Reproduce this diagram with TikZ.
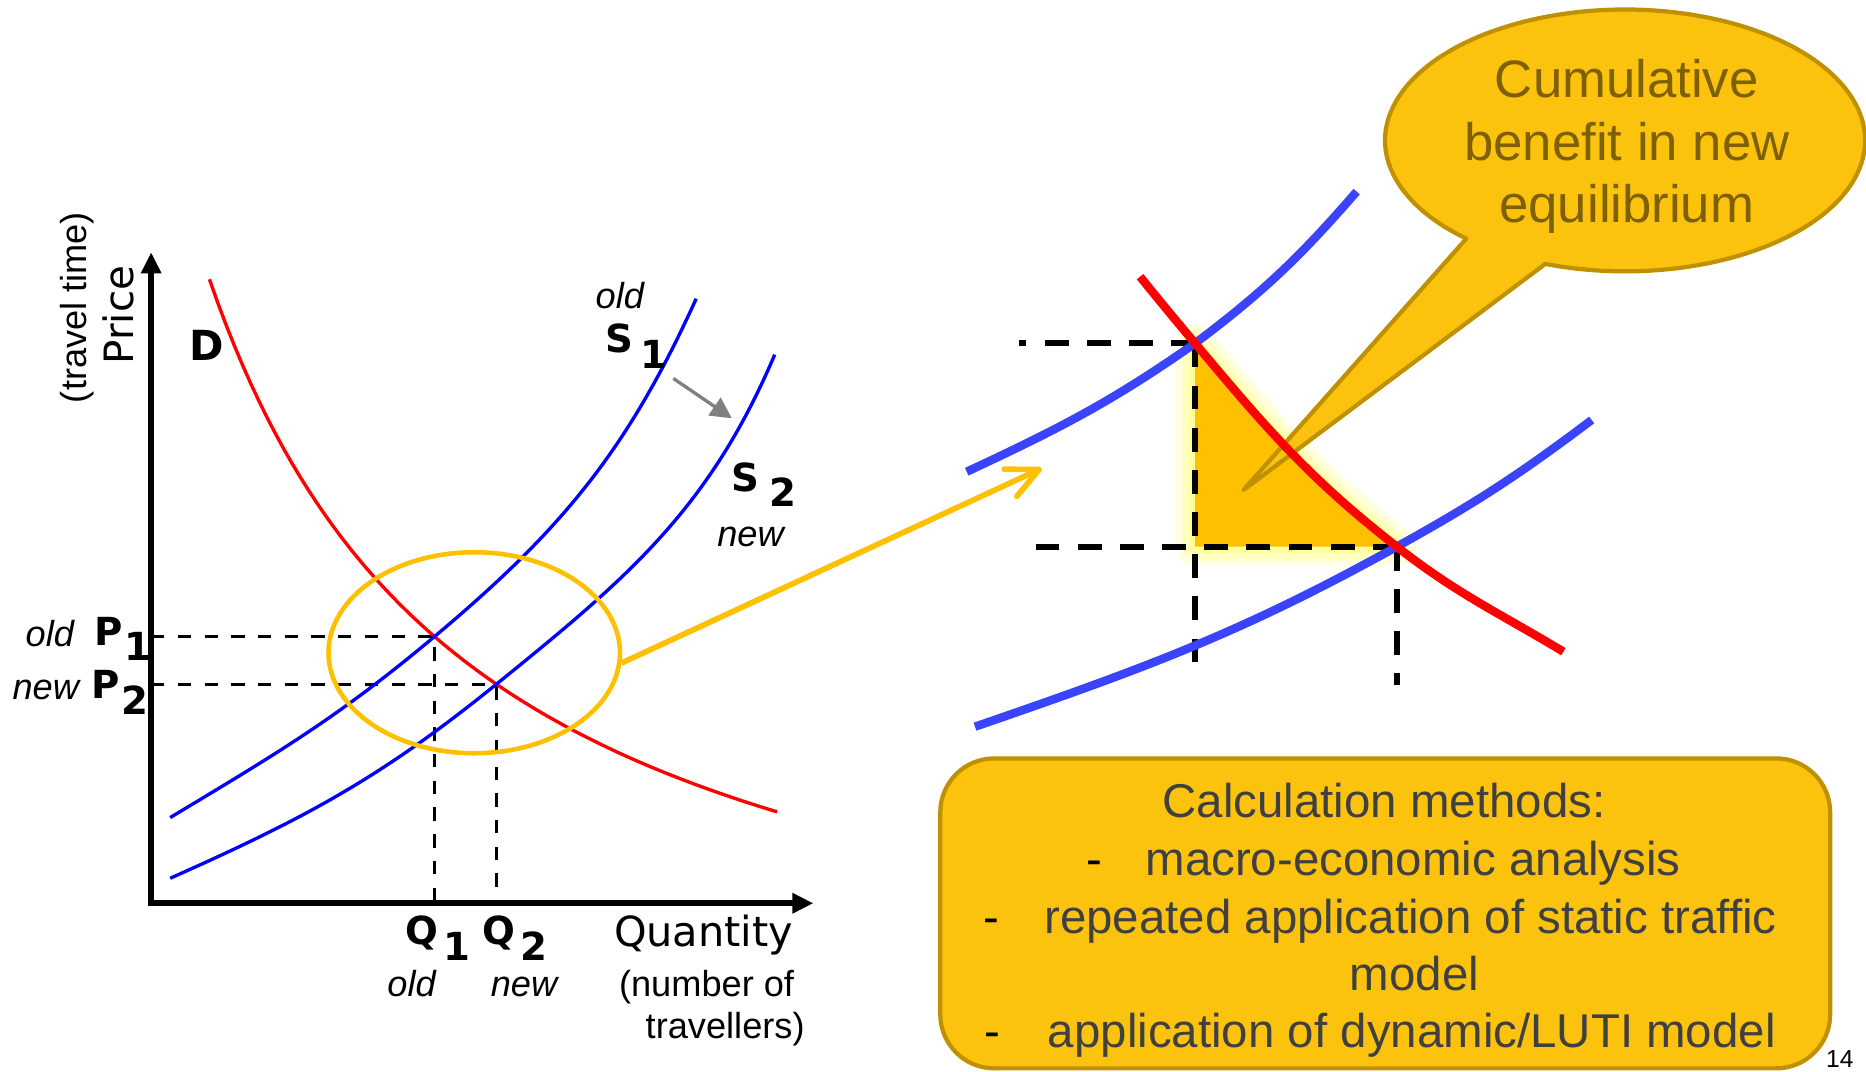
\documentclass[tikz,border=0pt]{standalone}
\usepackage{fontspec}
\setmainfont{Liberation Sans}
\newfontfamily\dejavu{DejaVu Sans}
\usepackage{tikz}
\usetikzlibrary{arrows.meta,shapes.geometric,calc}

\definecolor{gold}{HTML}{FFC000}
\definecolor{goldfill}{HTML}{FCC30E}
\definecolor{goldline}{HTML}{BF9000}
\definecolor{goldtext}{HTML}{7F6000}
\definecolor{boxtext}{HTML}{404040}
\definecolor{glow}{HTML}{FFFF80}
\definecolor{thickblue}{HTML}{3A44FF}

% letter with a lowered index, as on the axes
\newcommand{\sublbl}[3][2pt]{#2\kern#1\raisebox{-4.4pt}{#3}}

\tikzset{
  axisline/.style={line width=1.7pt,{Triangle[length=6pt,width=5.5pt]}-{Triangle[length=6pt,width=5.5pt]}},
  thinguide/.style={line width=0.8pt,dash pattern=on 3.8pt off 3.8pt},
  thickguide/.style={line width=1.7pt,dash pattern=on 6.8pt off 5.2pt},
  thincurve/.style={line width=0.95pt},
  thickcurve/.style={line width=2.4pt},
  lbl/.style={inner sep=0pt,font=\dejavu\bfseries\fontsize{11}{12}\selectfont},
  tag/.style={inner sep=0pt,font=\itshape\fontsize{10.3}{12}\selectfont},
  note/.style={inner sep=0pt,font=\fontsize{10.3}{11.9}\selectfont},
  boxline/.style={inner sep=0pt,font=\fontsize{13.5}{16}\selectfont,text=boxtext},
  zoomarrow/.style={draw=gold,line width=1.6pt,-{Straight Barb[length=9pt,width=8.5pt,round]}},
}

\begin{document}
\begin{tikzpicture}[x=0.0119cm,y=0.0119cm]
    \useasboundingbox (0,0) rectangle (1568,900);

    % linkes Diagramm: Achsen
    \coordinate (O) at (127,141);
    \coordinate (ytip) at (127,688);
    \coordinate (xtip) at (683.5,141);
    \draw[axisline] (ytip) -- (O) -- (xtip);

    % Gleichgewichte alt/neu
    \coordinate (EL1) at (365,365);
    \coordinate (EL2) at (417,325);
    \draw[thinguide] (O |- EL1) -- (EL1) -- (EL1 |- O);
    \draw[thinguide] (O |- EL2) -- (EL2) -- (EL2 |- O);

    % Nachfrage und Angebot
    \draw[thincurve,red] plot[domain=176:653,samples=70] (\x,{5+1497/(0.01*\x+0.508)});
    \draw[thincurve,blue] (143,213) to[out=31,in=-140] (EL1) to[out=40,in=-114.4] (585,649);
    \draw[thincurve,blue] (143,162) to[out=24,in=-141] (EL2) to[out=39,in=-113] (651,602);

    % Verschiebung S1 -> S2
    \coordinate (shift1) at (565.8,582);
    \coordinate (shift2) at (615,548.5);
    \draw[gray,line width=0.95pt,-{Triangle[length=6pt,width=6pt]}] (shift1) -- (shift2);

    % Beschriftung
    \node[note,rotate=90] (travel) at (65,641.6) {(travel time)};
    \node[inner sep=0pt,rotate=90,font=\dejavu\fontsize{11.5}{13}\selectfont] (price) at (99.4,635.3) {Price};
    \node[inner sep=0pt,font=\dejavu\bfseries\fontsize{11.8}{13}\selectfont] (D) at (173.7,610) {D};

    \node[tag,anchor=base west] (oldP) at (21,357) {old};
    \node[lbl,anchor=base west] (P1) at (79,358) {\sublbl[0.5pt]{P}{1}};
    \node[tag,anchor=base west] (newP) at (10,312) {new};
    \node[lbl,anchor=base west] (P2) at (76,313) {\sublbl[0.5pt]{P}{2}};

    \node[tag,anchor=base west] (oldS) at (500,641) {old};
    \node[lbl,anchor=base west] (S1) at (508.5,603.6) {\sublbl{S}{1}};
    \node[lbl,anchor=base west] (S2) at (614,487) {\sublbl[3pt]{S}{2}};
    \node[tag,anchor=base west] (newS) at (602.2,440.6) {new};

    \node[lbl,anchor=base west] (Q1) at (340,106) {\sublbl[1.5pt]{Q}{1}};
    \node[lbl,anchor=base west] (Q2) at (404.5,106) {\sublbl[1.5pt]{Q}{2}};
    \node[tag,anchor=base west] (oldQ) at (325,62.5) {old};
    \node[tag,anchor=base west] (newQ) at (411.8,62.5) {new};

    \node[inner sep=0pt,anchor=base west,font=\dejavu\fontsize{11.8}{13}\selectfont] (quantity) at (515.4,104.5) {Quantity};
    \node[note,anchor=base west] (number) at (519.6,62.5) {(number of};
    \node[note,anchor=base west] (travellers) at (542,27.5) {travellers)};

    % Ausschnitt
    \node[draw=gold,line width=1.3pt,ellipse,inner sep=0pt,minimum width=2.915cm,minimum height=2.01cm] (focus) at (398.5,351.5) {};
    \coordinate (zoomtip) at (875.4,506.5);
    \draw[zoomarrow] (focus.-4) -- (zoomtip);

    % rechtes Diagramm
    \coordinate (E1) at (1004.2,611.5);
    \coordinate (E2) at (1173.7,440.6);
    \coordinate (a1) at (856,611.5);
    \coordinate (a2) at (1004.2,338.4);
    \coordinate (b1) at (865.5,440.6);
    \coordinate (b2) at (1173.7,324.4);

    % Nutzen-Dreieck mit Schein
    \foreach \w/\o in {11/0.25,7/0.35,3.5/0.5} {
        \draw[glow,line width=\w pt,opacity=\o,line join=round] (E1) to[out=-50,in=142] (E2) -- (E1 |- E2) -- cycle;
    }
    \fill[gold] (E1) to[out=-50,in=142] (E2) -- (E1 |- E2) -- cycle;

    \draw[thickguide] (E1) -- (a1);
    \draw[thickguide] (E1) -- (a2);
    \draw[thickguide] (E2) -- (b1);
    \draw[thickguide] (E2) -- (b2);

    \draw[thickcurve,thickblue] (812.3,503.6) to[out=25,in=-145] (E1) to[out=37,in=-131] (1140,739);
    \draw[thickcurve,thickblue] (819.3,289.4) to[out=19,in=-151] (E2) to[out=29,in=-143] (1337.5,547.1);

    % Sprechblase
    \coordinate (bc) at (1365.5,782);
    \coordinate (tailtip) at (1044.8,488.2);
    \filldraw[fill=goldfill,draw=goldline,line width=1.2pt,line join=round]
        (bc) ++(250.6:201.7 and 110) arc[start angle=250.6,end angle=588.6,x radius=201.7,y radius=110] -- (tailtip) -- cycle;
    \node[align=center,inner sep=0pt,text=goldtext,font=\fontsize{15}{17.8}\selectfont] (benefit) at (1367,777) {Cumulative\\benefit in new\\equilibrium};

    \draw[thickcurve,red] (958,667.5) to[out=-51,in=130] (E1) to[out=-50,in=142] (E2) to[out=-38,in=149] (1313.7,352.4);

    % Methoden
    \node[draw=goldline,fill=goldfill,line width=1.2pt,rounded corners=0.54cm,minimum width=8.9cm,minimum height=3.1cm] (methods) at (1164,132.5) {};
    \node[boxline,anchor=base] (calc) at (1163,213) {Calculation methods:};
    \node[boxline,text=black,anchor=base west] (dash1) at (912,164) {-};
    \node[boxline,anchor=base west] (m1) at (962,164) {macro-economic analysis};
    \node[boxline,text=black,anchor=base west] (dash2) at (826,116) {-};
    \node[boxline,anchor=base west] (m2) at (877,116) {repeated application of static traffic};
    \node[boxline,anchor=base] (m2b) at (1188.5,68) {model};
    \node[boxline,text=black,anchor=base west] (dash3) at (827,20) {-};
    \node[boxline,anchor=base west] (m3) at (880,20) {application of dynamic/LUTI model};

    \node[inner sep=0pt,anchor=base,font=\fontsize{7}{8}\selectfont] (pageno) at (1546,3) {14};
\end{tikzpicture}
\end{document}
